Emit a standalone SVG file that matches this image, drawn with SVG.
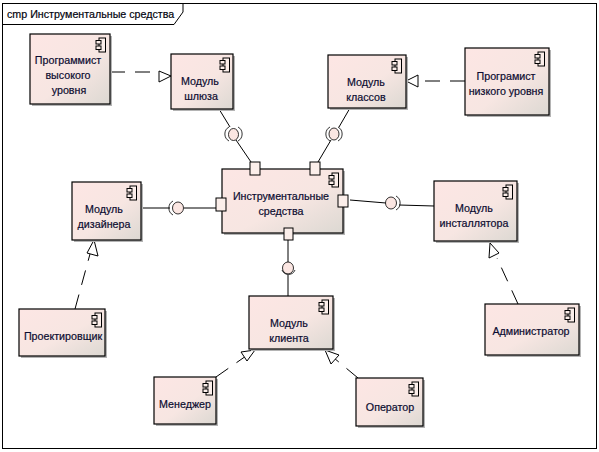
<svg xmlns="http://www.w3.org/2000/svg" width="599" height="452" viewBox="0 0 599 452">
<style>
text{font-family:"Liberation Sans",Arial,sans-serif;font-size:10.700px;fill:#0c0c30;stroke:#0c0c30;stroke-width:.2;text-anchor:middle}
.box{fill:url(#g);stroke:#000;stroke-width:1.200}
.sh{fill:#b4b4b4}
.port{fill:#fbeeea;stroke:#000;stroke-width:1}
.icb{fill:#fbeeea;stroke:#000;stroke-width:1}
.l{fill:none;stroke:#000;stroke-width:1}
.d{fill:none;stroke:#000;stroke-width:1;stroke-dasharray:15 10}
.tri{fill:#fff;stroke:#000;stroke-width:1}
.ball{fill:#fbe6e2;stroke:#000;stroke-width:.8}
.sock{fill:none;stroke:#000;stroke-width:.8}
</style>
<defs>
<linearGradient id="g" x1="0" y1="0" x2="1" y2="1"><stop offset="0" stop-color="#fde6e4"/><stop offset=".55" stop-color="#f7e6e2"/><stop offset="1" stop-color="#dcd8d2"/></linearGradient>
<g id="i"><rect class="icb" x="-3" y="0" width="6.500" height="14"/><rect class="icb" x="-6" y="2.500" width="5" height="3.500"/><rect class="icb" x="-6" y="8" width="5" height="3.500"/></g>
</defs>
<rect width="599" height="452" fill="#fff"/>
<g id="frame"><rect x="2.500" y="3.500" width="594" height="445" fill="none" stroke="#000"/><path d="M2.500 24.500H174L183 12V3.500" fill="none" stroke="#000"/><text x="7" y="18" style="text-anchor:start;fill:#000">cmp Инструментальные средства</text></g>
<g id="connectors">
<path class="d" d="M110 72H160"/><path class="tri" d="M171 76L159 71V82Z"/>
<path class="d" d="M465 81H417"/><path class="tri" d="M406 81L418 75V87Z"/>
<path class="d" d="M75 309L90 254"/><path class="tri" d="M94 240L87 253L98 256Z"/>
<path class="d" d="M518 304L497 258"/><path class="tri" d="M490 243L489 258L499 253Z"/>
<path class="d" d="M216 377L246 356"/><path class="tri" d="M255 350L241 352L247 361Z"/>
<path class="d" d="M358 378L334 358"/><path class="tri" d="M325 350L331 364L339 355Z"/>
<path class="l" d="M219 109L230 127M236 140L251 162"/>
<path class="l" d="M350 108L339 127M331 140L318 162"/>
<path class="l" d="M141 208H170M184 208H216"/>
<path class="l" d="M350 200L386 203M399 205L434 206"/>
<path class="l" d="M288 240V262M288 275V296"/>
<ellipse class="ball" cx="233.500" cy="134.500" rx="5" ry="6"/><path class="sock" d="M229 127A8 8 0 0 0 229 141M238 127A8 8 0 0 1 238 141"/>
<ellipse class="ball" cx="334" cy="134" rx="5" ry="6"/><path class="sock" d="M330 127A8 8 0 0 0 330 141M338 127A8 8 0 0 1 338 141"/>
<ellipse class="ball" cx="178" cy="208" rx="5.500" ry="6"/><path class="sock" d="M173 201A8 8 0 0 0 173 215"/>
<ellipse class="ball" cx="391" cy="203" rx="5.500" ry="6"/><path class="sock" d="M396 196A8 8 0 0 1 396 210"/>
<ellipse class="ball" cx="288" cy="268" rx="5.500" ry="6"/><path class="sock" d="M282 270A7 7 0 0 0 295 270"/>
</g>
<g id="n1"><rect class="sh" x="32" y="36" width="80" height="70"/><rect class="box" x="30" y="34" width="80" height="70"/><use href="#i" x="102" y="38"/><text x="68" y="64">Программист</text><text x="68" y="79">высокого</text><text x="69" y="94">уровня</text></g>
<g id="n2"><rect class="sh" x="173" y="56" width="62" height="55"/><rect class="box" x="171" y="54" width="62" height="55"/><use href="#i" x="226" y="58"/><text x="200" y="85">Модуль</text><text x="201" y="100">шлюза</text></g>
<g id="n3"><rect class="sh" x="330" y="57" width="78" height="53"/><rect class="box" x="328" y="55" width="78" height="53"/><use href="#i" x="398" y="59"/><text x="366" y="86">Модуль</text><text x="366" y="101">классов</text></g>
<g id="n4"><rect class="sh" x="467" y="50" width="84" height="67"/><rect class="box" x="465" y="48" width="84" height="67"/><use href="#i" x="541" y="52"/><text x="506" y="80">Програмист</text><text x="506" y="95">низкого уровня</text></g>
<g id="n5"><rect class="sh" x="224" y="171" width="121" height="64"/><rect class="box" x="222" y="169" width="121" height="64"/><use href="#i" x="335" y="173"/><text x="281" y="200">Инструментальные</text><text x="281" y="215">средства</text><rect class="port" x="250" y="162" width="10" height="13"/><rect class="port" x="310" y="162" width="10" height="13"/><rect class="port" x="338" y="195" width="10" height="12"/><rect class="port" x="216" y="198" width="10" height="13"/><rect class="port" x="284" y="228" width="9" height="12"/></g>
<g id="n6"><rect class="sh" x="74" y="184" width="69" height="58"/><rect class="box" x="72" y="182" width="69" height="58"/><use href="#i" x="133" y="186"/><text x="104" y="213">Модуль</text><text x="104" y="228">дизайнера</text></g>
<g id="n7"><rect class="sh" x="436" y="183" width="83" height="60"/><rect class="box" x="434" y="181" width="83" height="60"/><use href="#i" x="509" y="185"/><text x="474" y="212">Модуль</text><text x="474" y="227">инсталлятора</text></g>
<g id="n8"><rect class="sh" x="251" y="298" width="84" height="53"/><rect class="box" x="249" y="296" width="84" height="53"/><use href="#i" x="325" y="300"/><text x="289" y="327">Модуль</text><text x="289" y="342">клиента</text></g>
<g id="n9"><rect class="sh" x="21" y="311" width="86" height="47"/><rect class="box" x="19" y="309" width="86" height="47"/><use href="#i" x="98" y="313"/><text x="63" y="340">Проектировщик</text></g>
<g id="n10"><rect class="sh" x="156" y="379" width="62" height="47"/><rect class="box" x="154" y="377" width="62" height="47"/><use href="#i" x="209" y="381"/><text x="185" y="408">Менеджер</text></g>
<g id="n11"><rect class="sh" x="358" y="380" width="67" height="48"/><rect class="box" x="356" y="378" width="67" height="48"/><use href="#i" x="415" y="382"/><text x="390" y="411">Оператор</text></g>
<g id="n12"><rect class="sh" x="487" y="306" width="94" height="51"/><rect class="box" x="485" y="304" width="94" height="51"/><use href="#i" x="571" y="308"/><text x="531" y="335">Администратор</text></g>
</svg>
